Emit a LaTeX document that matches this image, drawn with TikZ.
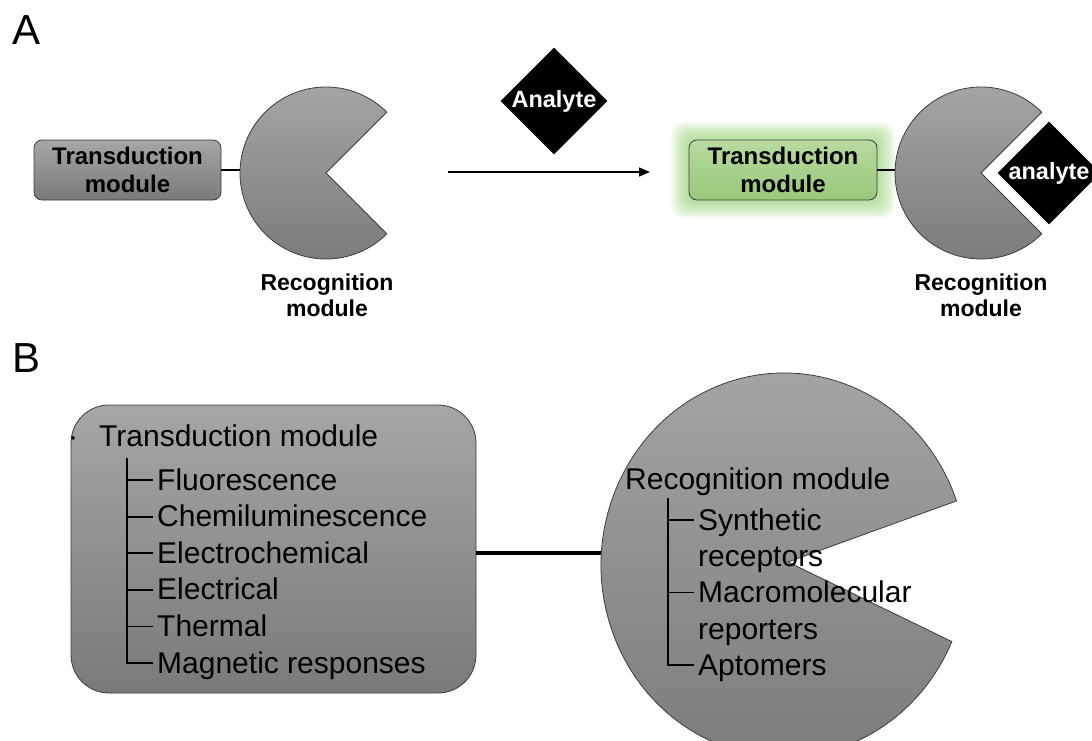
\documentclass[tikz,border=0pt]{standalone}
\usepackage{fontspec}
\setmainfont{Liberation Sans}
\usetikzlibrary{shapes.geometric,arrows.meta,calc}
\definecolor{modtop}{RGB}{166,166,166}
\definecolor{modbot}{RGB}{122,122,122}
\definecolor{edgegray}{RGB}{60,60,60}
\definecolor{glowgreen}{RGB}{130,200,90}
\definecolor{greentop}{RGB}{184,218,160}
\definecolor{greenbot}{RGB}{150,200,122}

\begin{document}
\begin{tikzpicture}[x=1pt,y=-1pt,
    module/.style={draw=edgegray, line width=0.8pt, top color=modtop, bottom color=modbot},
    greenmod/.style={draw=edgegray, line width=0.8pt, top color=greentop, bottom color=greenbot},
    boldlabel/.style={font=\fontsize{24}{28}\selectfont\bfseries, align=center},
    reclabel/.style={font=\fontsize{23}{26}\selectfont\bfseries, align=center},
    analyte/.style={diamond, fill=black, text=white, inner sep=0pt, minimum size=104pt, font=\fontsize{23.5}{28}\selectfont\bfseries},
    panel/.style={font=\fontsize{42}{50}\selectfont, anchor=base west, inner sep=0pt},
    item/.style={font=\fontsize{30}{36.6}\selectfont, anchor=base west, inner xsep=4pt, inner ysep=0pt, align=left},
    link/.style={line width=1.6pt},
    tree/.style={line width=1.8pt}]
  \useasboundingbox (0,0) rectangle (1092,740);

  % panel A, before binding
  \node[panel] (la) at (12,44) {A};
  \node[module, boldlabel, rounded corners=8pt, minimum width=187pt, minimum height=60pt, inner sep=0pt] (ta) at (127.5,170) {Transduction\\module};
  \draw[module] (326,173) -- ++(-45:86) arc[start angle=-45, end angle=-315, radius=86] -- cycle;
  \coordinate (ra) at (240,173);
  \draw[link] (ta.east) -- (ta.east -| ra);
  \node[reclabel] (rla) at (327,295) {Recognition\\module};

  % reaction arrow and analyte
  \node[analyte] (an) at (554,101) {Analyte};
  \coordinate (ar1) at (448,172);
  \coordinate (ar2) at (650,172);
  \draw[link, -{Triangle[length=11pt,width=9pt]}] (ar1) -- (ar2);

  % panel A, after binding
  \foreach \g in {2,4,...,18}
    \fill[glowgreen, opacity=.09, rounded corners=12pt] (689-\g,140-\g) rectangle (877+\g,200+\g);
  \node[greenmod, boldlabel, rounded corners=8pt, minimum width=188pt, minimum height=60pt, inner sep=0pt] (tb) at (783,170) {Transduction\\module};
  \draw[module] (981,173) -- ++(-45:86) arc[start angle=-45, end angle=-315, radius=86] -- cycle;
  \coordinate (rb) at (895,173);
  \draw[link] (tb.east) -- (tb.east -| rb);
  \node[analyte, minimum size=100pt] (an2) at (1049,173) {analyte};
  \node[reclabel] (rlb) at (981,295) {Recognition\\module};

  % panel B
  \node[panel] (lb) at (12,372) {B};
  \node[module, rounded corners=38pt, minimum width=405pt, minimum height=288pt] (tbox) at (273.5,549) {};
  \draw[module] (788,562) -- ($(784,565)+(-19.5:183 and 192)$) arc[start angle=-19.5, end angle=-336.5, x radius=183, y radius=192] -- cycle;
  \coordinate (rcb) at (601,553);
  \draw[line width=4pt] (tbox.east |- rcb) -- (rcb);

  % transduction list
  \node[item] (th) at (64,446) {·\hspace{21pt}Transduction module};
  \foreach \txt [count=\i] in {Fluorescence,Chemiluminescence,Electrochemical,Electrical,Thermal,Magnetic responses}
    \node[item] (t\i) at (153,453.4+36.6*\i) {\txt};
  \coordinate (tt) at (127,458);
  \draw[tree] (tt) |- ([yshift=10pt]t6.base west);
  \foreach \i in {1,...,5}
    \draw[tree] ([yshift=10pt]t\i.base west) -- ++(-26,0);

  % recognition list
  \node[item] (rh) at (621,489) {Recognition module};
  \node[item] (r1) at (694,566.6) {Synthetic\\receptors};
  \node[item] (r2) at (694,639) {Macromolecular\\reporters};
  \node[item] (r3) at (694,675) {Aptomers};
  \coordinate (rt) at (668,498);
  \draw[tree] (rt) |- ([yshift=10pt]r3.base west);
  \draw[tree] ([yshift=46.6pt]r1.base west) -- ++(-26,0);
  \draw[tree] ([yshift=46.6pt]r2.base west) -- ++(-26,0);
\end{tikzpicture}
\end{document}
